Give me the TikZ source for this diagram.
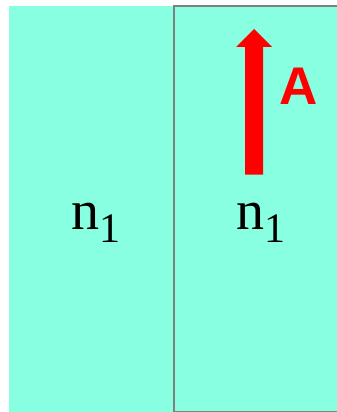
\documentclass[tikz,border=0pt]{standalone}
\usepackage{fontspec}
\setmainfont{Liberation Serif}
\newfontfamily\labelsans{Liberation Sans}
\definecolor{aqua}{RGB}{136,255,224}
\definecolor{edgegray}{RGB}{128,128,128}
\begin{document}
\begin{tikzpicture}[x=1pt,y=-1pt,
  medium/.style={fill=aqua},
  idx/.style={inner sep=0pt,anchor=base west,font=\fontsize{56}{56}\selectfont},
  vec/.style={fill=red}]
\useasboundingbox (0,0) rectangle (337,412);
\fill[medium] (9,6) rectangle (174,412);
\begin{scope}
\clip (0,0) rectangle (337,412);
\filldraw[medium,draw=edgegray,line width=1.5pt] (174,6) rectangle (345,411.3);
\end{scope}
\node[idx] (n1) at (71,229) {n\raisebox{-13pt}{\fontsize{42}{42}\selectfont 1}};
\node[idx] (n2) at (236,229) {n\raisebox{-13pt}{\fontsize{42}{42}\selectfont 1}};
\fill[vec] (245,174.5) -- (245,47) -- (236,47) -- (254,29) -- (272,47) -- (263,47) -- (263,174.5) -- cycle;
\coordinate (tip) at (254,29);
\node[inner sep=0pt,anchor=base west,text=red,font=\labelsans\bfseries\fontsize{53}{53}\selectfont] (A) at (279,104.5) {A};
\end{tikzpicture}
\end{document}
